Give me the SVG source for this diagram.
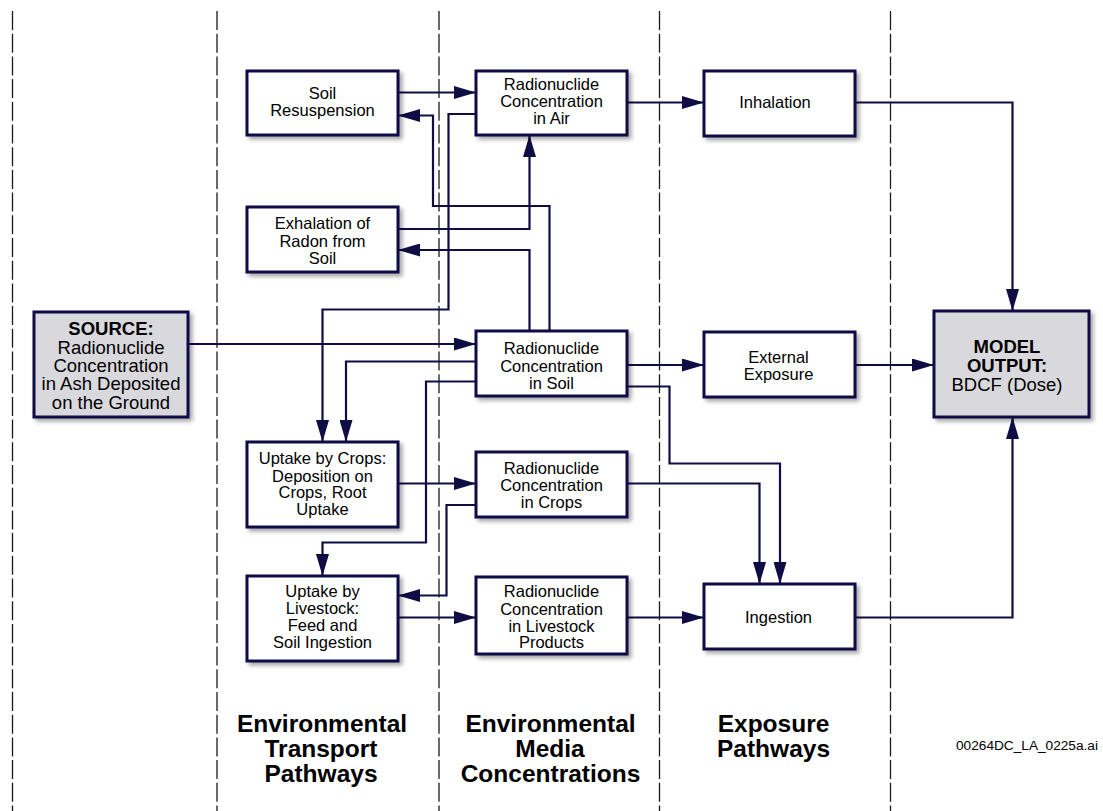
<svg xmlns="http://www.w3.org/2000/svg" width="1103" height="811" viewBox="0 0 1103 811">
<style>
.bg{fill:#ffffff}
.lane{stroke:#1a1a1a;stroke-width:1.3;stroke-dasharray:19 3.7;fill:none}
.box{fill:#ffffff;stroke:#100c44;stroke-width:3;filter:url(#sh)}
.gbox{fill:#d9d9dd;stroke:#100c44;stroke-width:3;filter:url(#sh)}
.con{fill:none;stroke:#100c44;stroke-width:2.2}
.t{font-family:"Liberation Sans",Arial,sans-serif;font-size:16.5px;fill:#000;text-anchor:middle}
.tl{font-family:"Liberation Sans",Arial,sans-serif;font-size:18.5px;fill:#000;text-anchor:middle}
.b{font-weight:bold}
.title{font-family:"Liberation Sans",Arial,sans-serif;font-size:24.5px;font-weight:bold;fill:#000;text-anchor:middle}
.id{font-family:"Liberation Sans",Arial,sans-serif;font-size:13.7px;fill:#000}
</style>
<defs>
<filter id="sh" x="-10%" y="-10%" width="130%" height="130%">
<feGaussianBlur in="SourceAlpha" stdDeviation="2.2"/>
<feOffset dx="3" dy="3" result="o"/>
<feComponentTransfer><feFuncA type="linear" slope="0.35"/></feComponentTransfer>
<feMerge><feMergeNode/><feMergeNode in="SourceGraphic"/></feMerge>
</filter>
<marker id="ar" markerUnits="userSpaceOnUse" markerWidth="22" markerHeight="13" refX="22" refY="6.5" orient="auto">
<path d="M0,0 L22,6.5 L0,13 z" fill="#100c44"/>
</marker>
</defs>
<rect class="bg" x="0" y="0" width="1103" height="811"/>
<g id="lanes">
<line class="lane" x1="12.5" y1="11" x2="12.5" y2="811"/>
<line class="lane" x1="217" y1="11" x2="217" y2="811"/>
<line class="lane" x1="439" y1="11" x2="439" y2="811"/>
<line class="lane" x1="659.5" y1="11" x2="659.5" y2="811"/>
<line class="lane" x1="890.5" y1="11" x2="890.5" y2="811"/>
</g>
<g id="connectors">
<path class="con" marker-end="url(#ar)" d="M398,92.5 H476"/>
<path class="con" marker-end="url(#ar)" d="M549.5,331 V206 H433 V115.5 H398"/>
<path class="con" marker-end="url(#ar)" d="M529.5,331 V250 H398"/>
<path class="con" marker-end="url(#ar)" d="M398,229 H529.5 V135"/>
<path class="con" marker-end="url(#ar)" d="M476,114 H448.5 V309.5 H322.5 V442"/>
<path class="con" marker-end="url(#ar)" d="M188,344 H476"/>
<path class="con" marker-end="url(#ar)" d="M476,361.5 H346 V442"/>
<path class="con" marker-end="url(#ar)" d="M476,381.5 H426 V542.5 H322.5 V576"/>
<path class="con" marker-end="url(#ar)" d="M398,483.5 H476"/>
<path class="con" marker-end="url(#ar)" d="M476,505 H446.5 V595.5 H398"/>
<path class="con" marker-end="url(#ar)" d="M398,617.5 H476"/>
<path class="con" marker-end="url(#ar)" d="M627,102.5 H704"/>
<path class="con" marker-end="url(#ar)" d="M855,102.5 H1012.5 V311"/>
<path class="con" marker-end="url(#ar)" d="M627,365 H704"/>
<path class="con" marker-end="url(#ar)" d="M855,365 H934"/>
<path class="con" marker-end="url(#ar)" d="M627,386.5 H669.5 V463.5 H780 V584"/>
<path class="con" marker-end="url(#ar)" d="M627,483.5 H759.5 V584"/>
<path class="con" marker-end="url(#ar)" d="M627,617.5 H704"/>
<path class="con" marker-end="url(#ar)" d="M855,617.5 H1012.5 V417"/>
</g>
<g id="source">
<rect class="gbox" x="34" y="312" width="154" height="105"/>
<text class="tl b" x="111" y="335">SOURCE:</text>
<text class="tl" x="111" y="353.5">Radionuclide</text>
<text class="tl" x="111" y="372">Concentration</text>
<text class="tl" x="111" y="390">in Ash Deposited</text>
<text class="tl" x="111" y="408.5">on the Ground</text>
</g>
<g id="soil-resuspension">
<rect class="box" x="247" y="71" width="151" height="64"/>
<text class="t" x="322.5" y="99.3">Soil</text>
<text class="t" x="322.5" y="115.5">Resuspension</text>
</g>
<g id="exhalation">
<rect class="box" x="247" y="207" width="151" height="65"/>
<text class="t" x="322.5" y="229.3">Exhalation of</text>
<text class="t" x="322.5" y="246.7">Radon from</text>
<text class="t" x="322.5" y="264">Soil</text>
</g>
<g id="uptake-crops">
<rect class="box" x="247" y="442" width="151" height="85"/>
<text class="t" x="322.5" y="464.3">Uptake by Crops:</text>
<text class="t" x="322.5" y="481.7">Deposition on</text>
<text class="t" x="322.5" y="498.3">Crops, Root</text>
<text class="t" x="322.5" y="515">Uptake</text>
</g>
<g id="uptake-livestock">
<rect class="box" x="247" y="576" width="151" height="85"/>
<text class="t" x="322.5" y="596.7">Uptake by</text>
<text class="t" x="322.5" y="613.5">Livestock:</text>
<text class="t" x="322.5" y="631">Feed and</text>
<text class="t" x="322.5" y="647.7">Soil Ingestion</text>
</g>
<g id="conc-air">
<rect class="box" x="476" y="71" width="151" height="64"/>
<text class="t" x="551.5" y="90">Radionuclide</text>
<text class="t" x="551.5" y="107">Concentration</text>
<text class="t" x="551.5" y="124">in Air</text>
</g>
<g id="conc-soil">
<rect class="box" x="476" y="331" width="151" height="65"/>
<text class="t" x="551.5" y="354">Radionuclide</text>
<text class="t" x="551.5" y="371.7">Concentration</text>
<text class="t" x="551.5" y="388.5">in Soil</text>
</g>
<g id="conc-crops">
<rect class="box" x="476" y="452" width="151" height="65"/>
<text class="t" x="551.5" y="474.3">Radionuclide</text>
<text class="t" x="551.5" y="491">Concentration</text>
<text class="t" x="551.5" y="508">in Crops</text>
</g>
<g id="conc-livestock">
<rect class="box" x="476" y="577" width="151" height="77"/>
<text class="t" x="551.5" y="597.3">Radionuclide</text>
<text class="t" x="551.5" y="615">Concentration</text>
<text class="t" x="551.5" y="631.7">in Livestock</text>
<text class="t" x="551.5" y="648.3">Products</text>
</g>
<g id="inhalation">
<rect class="box" x="704" y="71" width="151" height="65"/>
<text class="t" x="775" y="107.7">Inhalation</text>
</g>
<g id="external">
<rect class="box" x="704" y="332" width="151" height="65"/>
<text class="t" x="778.5" y="363">External</text>
<text class="t" x="778.5" y="380">Exposure</text>
</g>
<g id="ingestion">
<rect class="box" x="704" y="584" width="151" height="65"/>
<text class="t" x="778.5" y="622.7">Ingestion</text>
</g>
<g id="model-output">
<rect class="gbox" x="934" y="311" width="155" height="106"/>
<text class="tl b" x="1007" y="353.3">MODEL</text>
<text class="tl b" x="1007" y="371.7">OUTPUT:</text>
<text class="tl" x="1007" y="390.7">BDCF (Dose)</text>
</g>
<g id="labels">
<text class="title" x="322" y="732">Environmental</text>
<text class="title" x="321" y="757">Transport</text>
<text class="title" x="321" y="782">Pathways</text>
<text class="title" x="550.5" y="732">Environmental</text>
<text class="title" x="550" y="757">Media</text>
<text class="title" x="550.5" y="782">Concentrations</text>
<text class="title" x="773.5" y="732">Exposure</text>
<text class="title" x="773.5" y="757">Pathways</text>
<text class="id" x="956" y="750" textLength="142" lengthAdjust="spacingAndGlyphs">00264DC_LA_0225a.ai</text>
</g>
</svg>
